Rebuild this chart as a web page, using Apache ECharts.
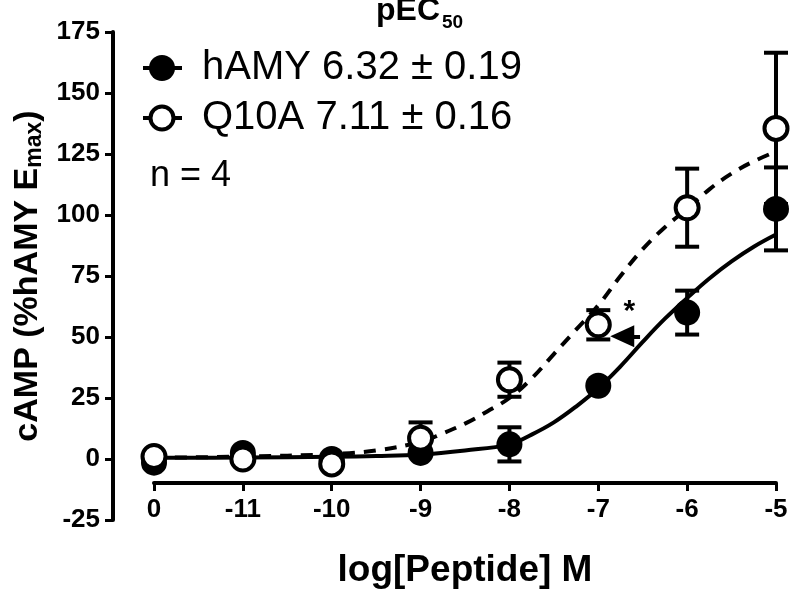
<!DOCTYPE html>
<html><head><meta charset="utf-8">
<script src="https://cdn.jsdelivr.net/npm/echarts@6/dist/echarts.min.js"></script>
<style>html,body{margin:0;padding:0;background:#fff}#c{width:791px;height:594px}</style>
</head><body><div id="c"></div>
<script>
// log[Peptide] positions; -12 is the "0" (vehicle) position
const xPositions = [-12, -11, -10, -9, -8, -7, -6, -5];
const xTickLabels = ['0', '-11', '-10', '-9', '-8', '-7', '-6', '-5'];
const hamyMean = [-1.5, 2.5, 0, 2.5, 6, 30, 60, 102.5];
const hamySem  = [0, 0, 0, 0, 7, 0, 9, 17];
const q10aMean = [1, 0, -2, 8.5, 32.5, 55, 103, 135.5];
const q10aSem  = [0, 0, 0, 6.5, 7, 6, 16, 31];
// fitted curves
const hamyFitX = [-12, -11, -10, -9.5, -9, -8.5, -8, -7.75, -7.5, -7.25, -7, -6.75, -6.5, -6.25, -6, -5.75, -5.5, -5.25, -5];
const hamyFitY = [0.5, 0.6, 0.9, 1.2, 1.8, 3.5, 6, 10, 15, 21.5, 29, 38, 48, 57.5, 66, 74, 81, 87, 92];
const q10aFitX = [-12, -11, -10, -9.5, -9, -8.75, -8.5, -8.25, -8, -7.75, -7.5, -7.25, -7, -6.75, -6.5, -6.25, -6, -5.75, -5.5, -5.25, -5];
const q10aFitY = [0.5, 1, 2, 3.5, 7, 10.5, 14.5, 19.5, 25, 33, 43, 53, 63, 75, 86, 95, 102.5, 110.5, 117, 122, 126];
const legendTexts = ['hAMY 6.32 \u00b1 0.19', 'Q10A 7.11 \u00b1 0.16', 'n = 4'];
const yTicks = {min: -25, max: 175, interval: 25};

const FONT = '"Liberation Sans", Arial, Helvetica, sans-serif';
const zip = (a, b) => a.map((v, i) => [v, b[i]]);
const zip3 = (a, b, c) => a.map((v, i) => [v, b[i], c[i]]);

function errRender(params, api) {
  const x = api.value(0), m = api.value(1), s = api.value(2);
  if (!s) return null;
  const top = api.coord([x, m + s]);
  const bot = api.coord([x, m - s]);
  const cw = 12;
  const st = {stroke: '#000', lineWidth: 4};
  return {type: 'group', children: [
    {type: 'line', shape: {x1: top[0], y1: top[1], x2: bot[0], y2: bot[1]}, style: st},
    {type: 'line', shape: {x1: top[0] - cw, y1: top[1], x2: top[0] + cw, y2: top[1]}, style: st},
    {type: 'line', shape: {x1: bot[0] - cw, y1: bot[1], x2: bot[0] + cw, y2: bot[1]}, style: st}
  ]};
}

const chart = echarts.init(document.getElementById('c'), null, {renderer: 'canvas'});
const lx1 = 143, lx2 = 182, lcx = 162;
chart.setOption({
  animation: false,
  backgroundColor: '#fff',
  textStyle: {fontFamily: FONT},
  grid: {left: 154, right: 15, top: 32, bottom: 73},
  xAxis: {
    type: 'value', min: -12, max: -5, interval: 1, offset: -37,
    axisLine: {show: true, onZero: false, lineStyle: {color: '#000', width: 4}},
    axisTick: {show: true, length: 8, lineStyle: {color: '#000', width: 3}},
    splitLine: {show: false},
    axisLabel: {color: '#000', fontSize: 26, fontWeight: 'bold', fontFamily: FONT, margin: 14,
      formatter: v => xTickLabels[xPositions.indexOf(v)] ?? ''},
    name: 'log[Peptide] M', nameLocation: 'middle', nameGap: 69,
    nameTextStyle: {color: '#000', fontSize: 37, fontWeight: 'bold', fontFamily: FONT}
  },
  yAxis: {
    type: 'value', min: yTicks.min, max: yTicks.max, interval: yTicks.interval, offset: 41,
    axisLine: {show: true, onZero: false, lineStyle: {color: '#000', width: 4}},
    axisTick: {show: true, length: 8, lineStyle: {color: '#000', width: 3}},
    splitLine: {show: false},
    axisLabel: {color: '#000', fontSize: 26, fontWeight: 'bold', fontFamily: FONT, margin: 13},
    name: '{a|cAMP (%hAMY E}{s|max}{a|)}', nameLocation: 'middle', nameGap: 62, nameRotate: 90,
    nameTextStyle: {rich: {
      a: {color: '#000', fontSize: 34, fontWeight: 'bold', fontFamily: FONT},
      s: {color: '#000', fontSize: 23, fontWeight: 'bold', fontFamily: FONT, verticalAlign: 'bottom', padding: [14, 0, 0, 0]}
    }}
  },
  graphic: [
    {type: 'text', x: 376, y: 27, style: {text: 'pEC', font: 'bold 32px ' + FONT, fill: '#000', verticalAlign: 'bottom'}},
    {type: 'text', x: 442, y: 32, style: {text: '50', font: 'bold 19px ' + FONT, fill: '#000', verticalAlign: 'bottom'}},
    {type: 'line', shape: {x1: lx1, y1: 68, x2: lx2, y2: 68}, style: {stroke: '#000', lineWidth: 4}},
    {type: 'circle', shape: {cx: lcx, cy: 68, r: 13}, style: {fill: '#000'}},
    {type: 'text', x: 202, y: 68, style: {text: legendTexts[0], font: '40px ' + FONT, fill: '#000', verticalAlign: 'middle'}},
    {type: 'line', shape: {x1: lx1, y1: 118, x2: lx2, y2: 118}, style: {stroke: '#000', lineWidth: 4}},
    {type: 'circle', shape: {cx: lcx, cy: 118, r: 11.5}, style: {fill: '#fff', stroke: '#000', lineWidth: 4}, z: 10},
    {type: 'text', x: 202, y: 118, style: {text: legendTexts[1], font: '40px ' + FONT, fill: '#000', verticalAlign: 'middle'}},
    {type: 'text', x: 150, y: 176, style: {text: legendTexts[2], font: '36px ' + FONT, fill: '#000', verticalAlign: 'middle'}}
  ],
  series: [
    {type: 'line', name: 'hAMY fit', data: zip(hamyFitX, hamyFitY), smooth: 0.4, showSymbol: false, symbol: 'none',
     lineStyle: {color: '#000', width: 4}, z: 2,
     markLine: {silent: true, symbol: ['none', 'triangle'], symbolSize: [22, 24],
       lineStyle: {color: '#000', width: 4, type: 'solid'}, label: {show: false},
       data: [[{coord: [-6.53, 50.3]}, {coord: [-6.73, 50.3]}]]},
     markPoint: {silent: true, symbol: 'circle', symbolSize: 0,
       label: {show: true, formatter: '*', color: '#000', fontSize: 30, fontWeight: 'bold', fontFamily: FONT, offset: [0, 4]},
       data: [{coord: [-6.65, 62]}]}},
    {type: 'line', name: 'Q10A fit', data: zip(q10aFitX, q10aFitY), smooth: 0.4, showSymbol: false, symbol: 'none',
     lineStyle: {color: '#000', width: 4, type: [12, 9]}, z: 2},
    {type: 'custom', name: 'hAMY err', data: zip3(xPositions, hamyMean, hamySem), renderItem: errRender, z: 3},
    {type: 'scatter', name: 'hAMY', data: zip(xPositions, hamyMean), symbol: 'circle', symbolSize: 26,
     itemStyle: {color: '#000', opacity: 1}, z: 4},
    {type: 'custom', name: 'Q10A err', data: zip3(xPositions, q10aMean, q10aSem), renderItem: errRender, z: 5},
    {type: 'scatter', name: 'Q10A', data: zip(xPositions, q10aMean), symbol: 'circle', symbolSize: 23,
     itemStyle: {color: '#fff', borderColor: '#000', borderWidth: 4, opacity: 1}, z: 6}
  ]
});
</script></body></html>
